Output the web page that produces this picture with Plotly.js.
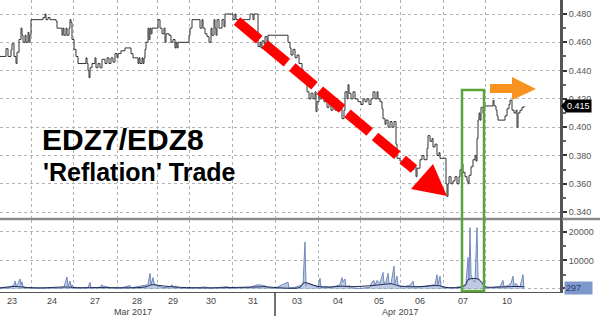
<!DOCTYPE html>
<html>
<head>
<meta charset="utf-8">
<script src="https://cdn.plot.ly/plotly-3.0.1.min.js"></script>
<style>html,body{margin:0;padding:0;background:#fff;}#chart{width:600px;height:319px;}</style>
</head>
<body>
<div id="chart"></div>
<script>
// ---- Data (x = intraday bar index) ----
const dayLabels  = ['23','24','27','28','29','30','31','03','04','05','06','07','10'];
const dayCenters = [12,52,95,137,173,211,253,297,338,379,420,463,507];
const dayBounds  = [31,73,117,157,189,232,275,318,360,400,443,485];
const monthLabels = ['Mar 2017','Apr 2017'];
const monthCenters = [133,400];

const priceX = [0,6,8,11,12,14,16,17,19,21,22,23,25,26,28,29,30,31,43,45,46,48,50,56,57,60,62,63,64,66,67,69,70,71,72,74,76,78,85,86,87,88,89,90,92,95,96,98,100,102,105,107,109,111,113,115,117,118,121,125,131,133,137,138,139,140,142,143,144,145,146,148,149,150,151,152,157,158,160,162,164,165,166,169,171,173,175,176,177,178,188,189,190,192,196,200,202,203,205,207,209,211,212,214,215,216,217,219,220,222,224,225,233,235,236,240,250,253,254,258,260,261,262,264,265,267,268,273,288,290,291,293,295,297,299,302,303,305,307,309,311,313,315,316,317,319,320,322,324,326,327,329,331,333,335,337,339,341,342,344,345,347,348,349,351,353,355,358,361,363,365,367,369,371,373,375,377,378,380,382,383,385,386,388,390,392,394,396,397,400,404,406,408,410,412,414,416,417,420,422,424,427,428,430,432,433,435,437,439,440,445,446,447,448,449,451,453,455,457,459,460,462,463,465,467,468,469,471,473,475,476,477,478,479,480,481,483,484,485,492,493,494,496,497,498,502,505,507,509,510,512,514,516,517,518,520,522,524];
const priceY = [0.450,0.4555,0.450,0.4545,0.459,0.450,0.445,0.453,0.462,0.470,0.465,0.460,0.465,0.460,0.467,0.460,0.465,0.476,0.4775,0.480,0.476,0.4775,0.476,0.475,0.470,0.470,0.465,0.470,0.465,0.470,0.465,0.470,0.476,0.474,0.462,0.455,0.450,0.445,0.445,0.449,0.445,0.440,0.435,0.442,0.445,0.449,0.442,0.445,0.442,0.448,0.445,0.449,0.445,0.449,0.446,0.452,0.449,0.452,0.454,0.456,0.452,0.449,0.449,0.445,0.449,0.445,0.449,0.445,0.449,0.455,0.460,0.470,0.462,0.470,0.466,0.470,0.470,0.476,0.470,0.466,0.470,0.460,0.466,0.465,0.460,0.462,0.456,0.460,0.456,0.460,0.460,0.465,0.470,0.476,0.476,0.470,0.476,0.470,0.466,0.464,0.460,0.470,0.465,0.476,0.470,0.465,0.476,0.470,0.470,0.476,0.471,0.480,0.476,0.480,0.476,0.476,0.480,0.476,0.480,0.457,0.460,0.456,0.461,0.459,0.464,0.460,0.465,0.465,0.460,0.456,0.451,0.455,0.449,0.451,0.445,0.441,0.433,0.437,0.425,0.420,0.424,0.420,0.425,0.411,0.418,0.425,0.420,0.427,0.418,0.420,0.414,0.418,0.412,0.416,0.412,0.417,0.412,0.417,0.406,0.412,0.425,0.420,0.430,0.424,0.420,0.425,0.420,0.418,0.416,0.420,0.418,0.420,0.416,0.420,0.425,0.420,0.425,0.420,0.418,0.413,0.406,0.402,0.405,0.400,0.404,0.400,0.404,0.388,0.378,0.376,0.377,0.375,0.377,0.374,0.370,0.372,0.365,0.371,0.377,0.380,0.377,0.385,0.394,0.390,0.392,0.386,0.388,0.380,0.382,0.378,0.378,0.360,0.351,0.360,0.365,0.360,0.362,0.365,0.360,0.365,0.370,0.374,0.368,0.365,0.362,0.360,0.366,0.372,0.377,0.380,0.376,0.392,0.405,0.410,0.405,0.414,0.410,0.414,0.415,0.415,0.419,0.415,0.412,0.408,0.405,0.405,0.408,0.413,0.416,0.419,0.412,0.410,0.412,0.400,0.410,0.412,0.414,0.415];

const volX = [0,10,14,15,16,18,20,21,22,23,26,30,40,50,60,64,67,68,70,71,72,74,80,88,90,91,100,102,103,105,110,120,130,131,135,140,145,148,150,151,153,154,156,160,165,170,172,173,175,180,190,205,210,228,230,250,255,258,262,265,268,275,288,289,295,300,303,305,306,308,312,316,318,320,321,325,330,335,340,342,343,345,346,350,352,360,370,372,374,375,377,380,383,384,386,388,389,391,394,395,397,398,400,405,410,413,414,420,425,430,435,437,438,440,441,445,450,455,460,463,466,468,469,470,471,473,475,477,478,479,481,484,488,495,500,503,504,508,511,513,514,516,518,520,523,524];
const volY = [300,500,1500,2800,1200,2000,3500,1500,2500,800,400,300,300,400,300,800,4200,1000,2800,700,1500,400,300,500,2300,400,600,1500,800,1000,400,300,1200,400,700,900,1200,1500,5500,1500,4000,2000,1500,800,500,800,1500,600,1000,300,300,700,300,800,300,600,1200,1500,1300,1100,500,300,2400,400,600,1000,1500,16500,1200,2000,1500,800,600,3800,500,800,500,900,1500,4000,2500,3500,800,1200,400,200,600,2500,3000,1200,3000,2000,5800,2000,2500,5500,2000,1800,8000,2000,4500,1500,1000,900,1300,2700,900,800,1000,1200,1500,5000,1500,4500,1000,600,400,500,700,1000,2000,11000,3000,21500,5000,3000,2500,21500,4000,3000,2500,1000,400,500,800,3000,800,1200,2000,4500,1200,2000,1000,800,5000,300];

const maX = [0,15,25,40,66,75,100,145,152,160,175,200,255,265,280,300,303,306,310,318,330,342,350,372,380,392,400,420,438,445,460,466,468,478,482,485,500,515,524];
const maY = [400,900,600,400,700,500,500,700,1500,1200,700,400,700,800,400,600,2000,2200,1800,900,700,1000,800,1200,1500,1800,1000,800,1200,600,600,1500,3300,3500,2300,900,700,900,800];

const priceTicks = [0.34,0.36,0.38,0.40,0.42,0.44,0.46,0.48];
const volTicks = [297,10000,20000];
const volTickText = ['','10000','20000'];
const lastPrice = 0.415;
const lastVol = 297;
const titleLines = ['EDZ7/EDZ8', "'Reflation' Trade"];

// ---- Geometry helpers (pixel -> paper) ----
const W = 600, H = 319, ML = 0, MR = 39, MT = 0, MB = 27;
const PW = W - ML - MR, PH = H - MT - MB;
const px = v => (v - ML) / PW;
const py = v => 1 - (v - MT) / PH;

const font = 'Liberation Sans, Arial, sans-serif';

const traces = [
  {x: volX, y: volY, xaxis: 'x', yaxis: 'y2', type: 'scatter', mode: 'lines',
   fill: 'tozeroy', fillcolor: 'rgba(125,150,200,0.5)', line: {color: '#7089bb', width: 1}, hoverinfo: 'skip'},
  {x: maX, y: maY, xaxis: 'x', yaxis: 'y2', type: 'scatter', mode: 'lines',
   line: {color: '#1d2a57', width: 1, shape: 'spline'}, hoverinfo: 'skip'},
  {x: priceX, y: priceY, xaxis: 'x', yaxis: 'y', type: 'scatter', mode: 'lines',
   line: {color: '#333', width: 1, shape: 'hv'}}
];

const gridCol = '#b3b3b3';
const layout = {
  width: W, height: H, autosize: false,
  margin: {l: ML, r: MR, t: MT, b: MB, pad: 0},
  paper_bgcolor: '#fff', plot_bgcolor: '#fff',
  showlegend: false,
  font: {family: font, size: 9, color: '#444'},
  xaxis: {
    domain: [0, 1], anchor: 'y2', range: [0, 561],
    tickmode: 'array', tickvals: dayCenters, ticktext: dayLabels,
    ticks: '', showgrid: false, zeroline: false,
    showline: true, linecolor: '#555', linewidth: 1,
    tickfont: {family: font, size: 9, color: '#444'},
    minor: {tickmode: 'array', tickvals: dayBounds, showgrid: true, gridcolor: gridCol, griddash: 'dot', gridwidth: 1, ticks: ''}
  },
  yaxis: {
    domain: [py(218), 1], anchor: 'x', side: 'right', range: [0.3358, 0.4899],
    tickmode: 'array', tickvals: priceTicks, tickformat: '.3f',
    showgrid: true, gridcolor: gridCol, griddash: 'dot', gridwidth: 1, zeroline: false,
    ticks: 'outside', ticklen: 4, tickwidth: 2, tickcolor: '#333',
    showline: true, linecolor: '#555', linewidth: 2,
    tickfont: {family: font, size: 9, color: '#555'},
    minor: {tickmode: 'linear', tick0: 0, dtick: 0.01, ticks: 'outside', ticklen: 3, tickcolor: '#666', showgrid: false}
  },
  yaxis2: {
    domain: [0, py(220)], anchor: 'x', side: 'right', range: [-1050, 24200],
    tickmode: 'array', tickvals: volTicks, ticktext: volTickText,
    showgrid: true, gridcolor: gridCol, griddash: 'dot', gridwidth: 1, zeroline: false,
    ticks: 'outside', ticklen: 4, tickwidth: 2, tickcolor: '#333',
    showline: true, linecolor: '#555', linewidth: 2,
    tickfont: {family: font, size: 9, color: '#555'},
    minor: {tickmode: 'array', tickvals: [5000, 15000], ticks: 'outside', ticklen: 3, tickcolor: '#666', showgrid: false}
  },
  shapes: [
    {type: 'line', xref: 'paper', yref: 'paper', x0: 0, x1: px(600), y0: py(219), y1: py(219), line: {color: '#8a8a8a', width: 2.5}},
    {type: 'line', xref: 'paper', yref: 'paper', x0: 1, x1: 1, y0: py(293), y1: 1, line: {color: '#555', width: 2}},
    {type: 'line', xref: 'x', yref: 'paper', x0: dayBounds[6], x1: dayBounds[6], y0: py(292), y1: py(316), line: {color: '#444', width: 1.5}},
    {type: 'line', xref: 'paper', yref: 'paper', x0: px(237), y0: py(21), x1: px(414), y1: py(169), line: {color: '#ff0000', width: 10, dash: '29px,7px'}},
    {type: 'path', xref: 'paper', yref: 'paper',
     path: `M${px(411)},${py(189)} L${px(433)},${py(164)} L${px(447)},${py(196)} Z`, fillcolor: '#ff0000', line: {width: 0}},
    {type: 'rect', xref: 'x', yref: 'paper', x0: 462, x1: 484, y0: py(291), y1: py(90), line: {color: '#5ba33b', width: 2.5}, fillcolor: 'rgba(0,0,0,0)'},
    {type: 'path', xref: 'paper', yref: 'paper',
     path: `M${px(490)},${py(84)} L${px(512)},${py(84)} L${px(512)},${py(77)} L${px(536)},${py(89)} L${px(512)},${py(100)} L${px(512)},${py(93)} L${px(490)},${py(93)} Z`,
     fillcolor: '#f7931e', line: {width: 0}},
    {type: 'path', xref: 'paper', yref: 'paper',
     path: `M${px(561)},${py(106)} L${px(566)},${py(100)} L${px(566)},${py(112)} Z`, fillcolor: '#000', line: {width: 0}}
  ],
  annotations: [
    {xref: 'paper', yref: 'paper', x: px(40), y: py(140), xanchor: 'left', yanchor: 'middle', showarrow: false,
     text: '<b>' + titleLines[0] + '</b>', font: {family: font, size: 30, color: '#000'}},
    {xref: 'paper', yref: 'paper', x: px(41), y: py(172), xanchor: 'left', yanchor: 'middle', showarrow: false,
     text: '<b>' + titleLines[1] + '</b>', font: {family: font, size: 25, color: '#000'}},
    {xref: 'paper', yref: 'paper', x: monthCenters[0] / 561, y: py(312), xanchor: 'center', yanchor: 'middle', showarrow: false,
     text: monthLabels[0], font: {family: font, size: 9, color: '#444'}},
    {xref: 'paper', yref: 'paper', x: monthCenters[1] / 561, y: py(312), xanchor: 'center', yanchor: 'middle', showarrow: false,
     text: monthLabels[1], font: {family: font, size: 9, color: '#444'}},
    {xref: 'paper', yref: 'y', x: px(565), y: lastPrice, xanchor: 'left', yanchor: 'middle', showarrow: false,
     text: lastPrice.toFixed(3), bgcolor: '#000', borderpad: 1, font: {family: font, size: 9, color: '#fff'}},
    {xref: 'paper', yref: 'y2', x: px(564), y: lastVol, xanchor: 'left', yanchor: 'middle', showarrow: false,
     text: String(lastVol) + '&nbsp;&nbsp;&nbsp;&nbsp;', bgcolor: '#7d98cc', borderpad: 1, font: {family: font, size: 9, color: '#2d3f6e'}}
  ]
};

Plotly.newPlot('chart', traces, layout, {displayModeBar: false, staticPlot: true});
</script>
</body>
</html>
